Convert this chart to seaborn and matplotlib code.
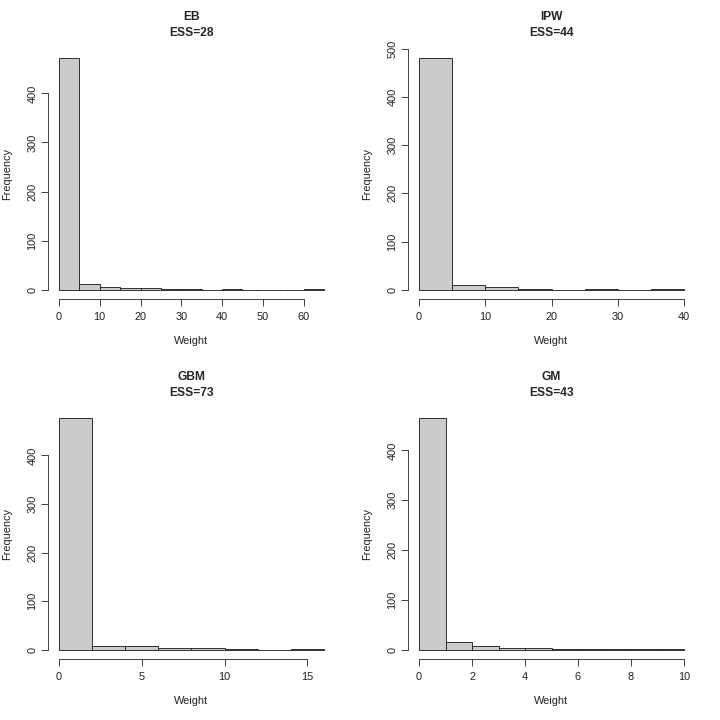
import numpy as np
import pandas as pd
import matplotlib
matplotlib.use("Agg")
import matplotlib.pyplot as plt
import seaborn as sns

# -------------------------------
# Data: histogram counts
# -------------------------------
methods = ["EB", "IPW", "GBM", "GM"]
ess = [28, 44, 73, 43]

eb_counts = [472, 12, 5, 3, 3, 1, 1, 0, 2, 0, 0, 0, 1]
ipw_counts = [481, 9, 5, 1, 0, 2, 0, 2]
gbm_counts = [477, 8, 7, 3, 3, 1, 0, 1]
gm_counts = [465, 15, 7, 3, 4, 1, 1, 2, 1, 1]

bin_widths = [5, 5, 2, 1]
x_ticks = [[0, 10, 20, 30, 40, 50, 60],
           [0, 10, 20, 30, 40],
           [0, 5, 10, 15],
           [0, 2, 4, 6, 8, 10]]
y_ticks = [[0, 100, 200, 300, 400],
           [0, 100, 200, 300, 400, 500],
           [0, 100, 200, 300, 400],
           [0, 100, 200, 300, 400]]

all_counts = [eb_counts, ipw_counts, gbm_counts, gm_counts]

# -------------------------------
# Style
# -------------------------------
sns.set_theme(style="ticks")
plt.rcParams["font.family"] = ["Liberation Sans", "DejaVu Sans"]

fig = plt.figure(figsize=(10, 10), dpi=72)
W = H = 720.0

# panel geometry in pixels (R-like plot regions)
pw, ph = 286.2, 250.3
origins = [(48.4, 48.7), (408.4, 48.7), (48.4, 408.7), (408.4, 408.7)]

for i, m in enumerate(methods):
    counts = np.array(all_counts[i])
    bw = bin_widths[i]
    edges = np.arange(len(counts) + 1) * bw
    mids = edges[:-1] + bw / 2
    df = pd.DataFrame({"weight": mids, "n": counts})

    x0, y0 = origins[i]
    ax = fig.add_axes([x0 / W, 1 - (y0 + ph) / H, pw / W, ph / H])

    sns.histplot(data=df, x="weight", weights="n", binwidth=bw,
                 binrange=(float(edges[0]), float(edges[-1])), ax=ax,
                 color="#CBCBCB", edgecolor="#222222", linewidth=0.9,
                 alpha=1.0)

    span = edges[-1] - edges[0]
    ax.set_xlim(edges[0] - 0.04 * span, edges[-1] + 0.04 * span)
    top = counts.max()
    ax.set_ylim(-0.04 * top, 1.04 * top)

    xt = x_ticks[i]
    yt = y_ticks[i]
    ax.set_xticks(xt)
    ax.set_yticks(yt)
    ax.set_yticklabels([str(v) for v in yt], rotation=90, va="center")
    ax.set_xticklabels([str(v) for v in xt])

    for s in ["top", "right"]:
        ax.spines[s].set_visible(False)
    ax.spines["left"].set_bounds(yt[0], yt[-1])
    ax.spines["bottom"].set_bounds(xt[0], xt[-1])
    for s in ["left", "bottom"]:
        ax.spines[s].set_color("#333333")
        ax.spines[s].set_linewidth(0.9)

    ax.tick_params(axis="both", direction="out", length=7, width=0.9,
                   color="#333333", labelsize=11, labelcolor="#222222",
                   bottom=True, left=True)
    ax.tick_params(axis="x", pad=6)
    ax.tick_params(axis="y", pad=4)

    ax.set_xlabel("Weight", fontsize=11, color="#222222")
    ax.xaxis.set_label_coords(0.5, -42 / ph)
    ax.xaxis.label.set_va("center")
    ax.set_ylabel("Frequency", fontsize=11, color="#222222")
    ax.yaxis.set_label_coords(-41.4 / pw, 0.5)
    ax.yaxis.label.set_va("center")

    ax.set_title(f"{m}\nESS={ess[i]}", fontsize=12, fontweight="bold",
                 pad=13, linespacing=1.45)

fig.savefig("out.png", dpi=72)
